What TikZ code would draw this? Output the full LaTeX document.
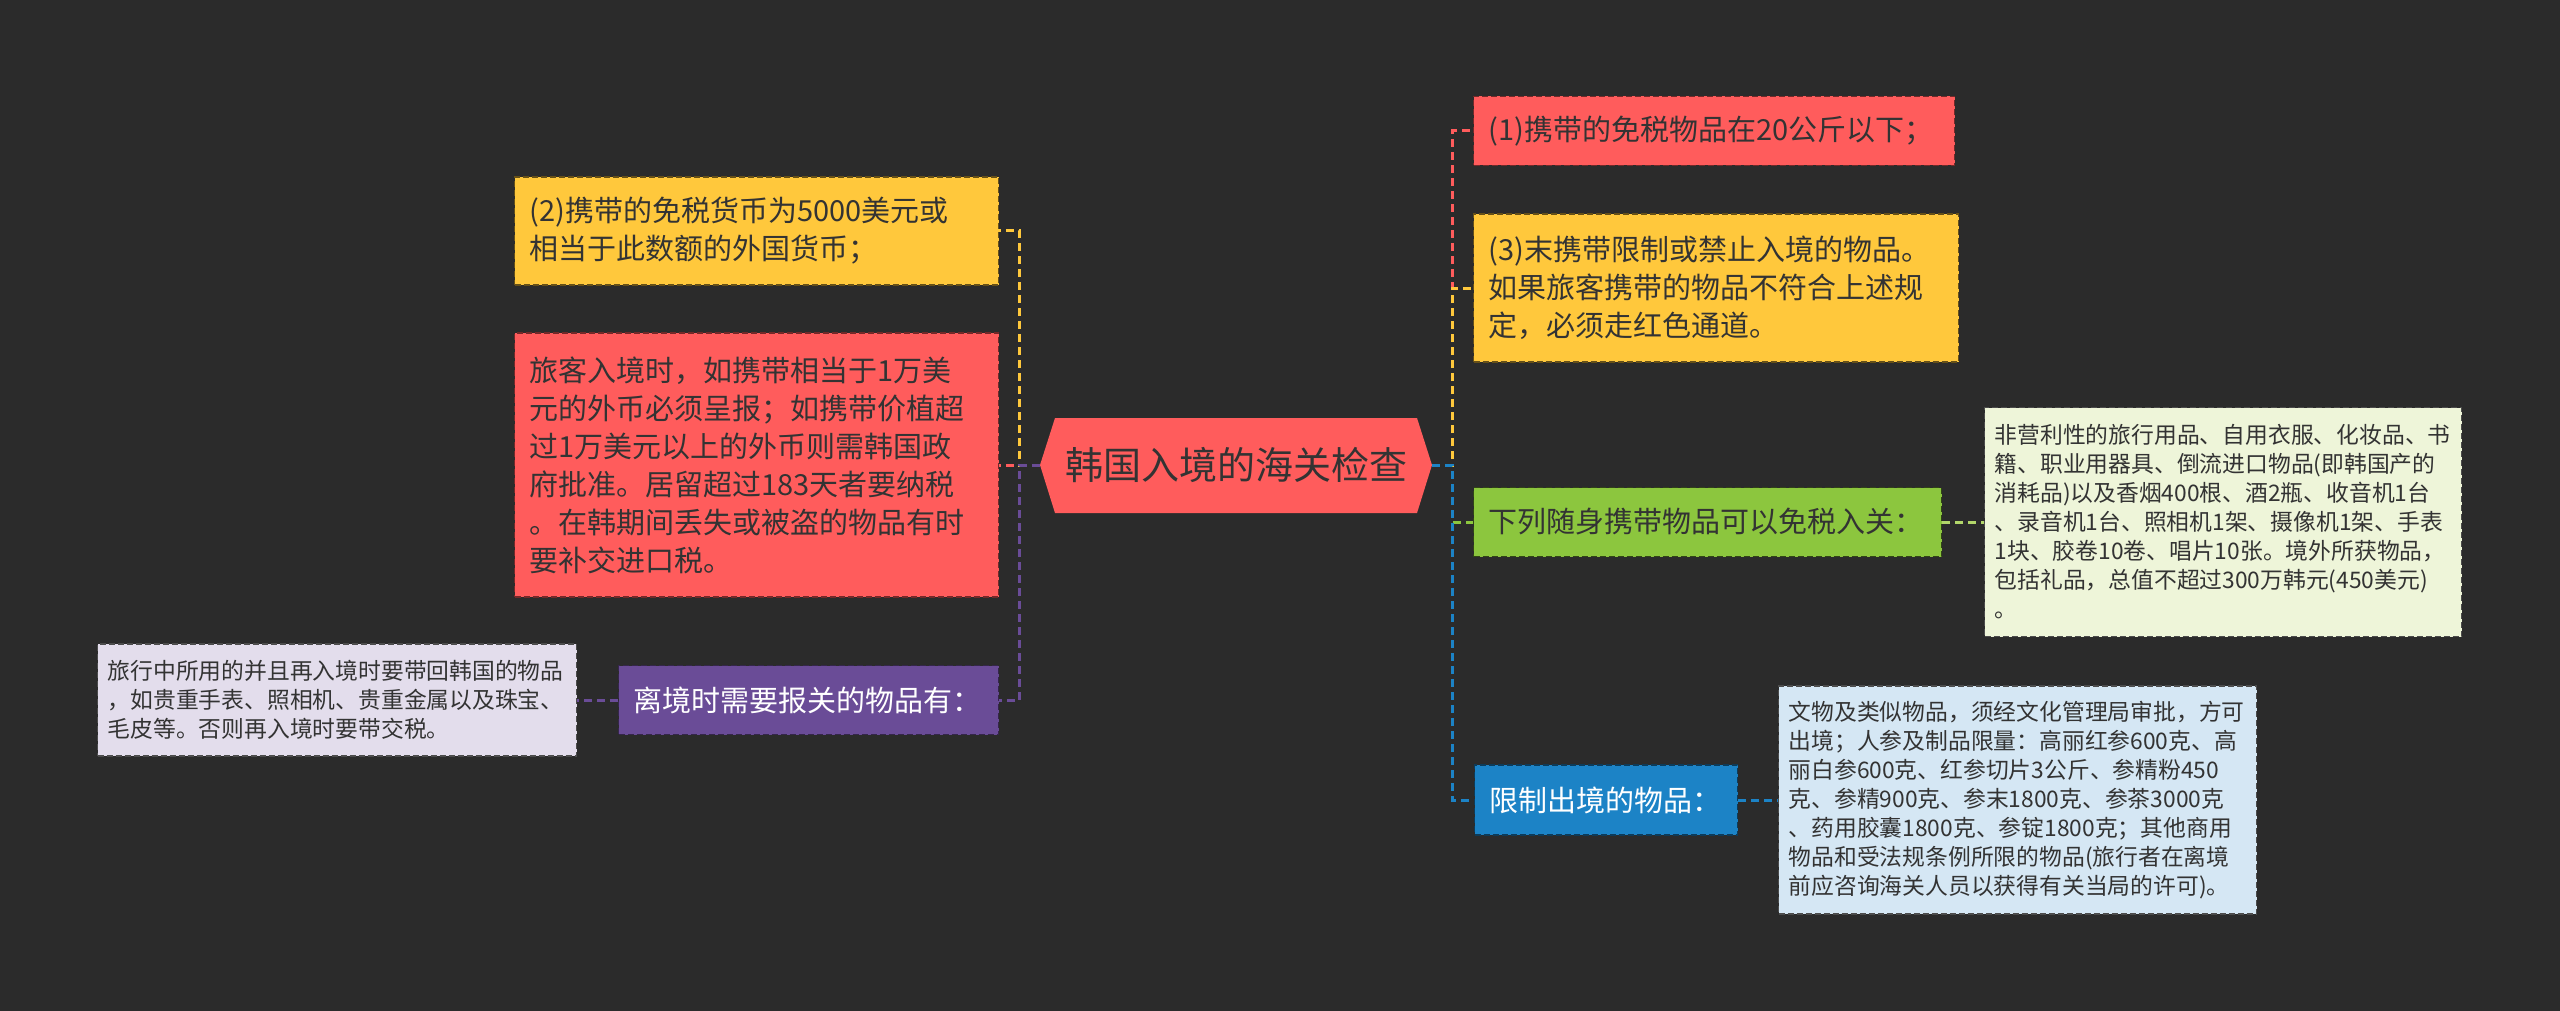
\documentclass[tikz,border=0pt]{standalone}
\usepackage{fontspec}
\setmainfont{Noto Sans CJK SC}

\definecolor{bgdark}{HTML}{2B2B2B}
\definecolor{cred}{HTML}{FF5C5C}
\definecolor{cyellow}{HTML}{FFC83C}
\definecolor{cgreen}{HTML}{8CC63E}
\definecolor{clink}{HTML}{B2D66A}
\definecolor{cblue}{HTML}{1C83C6}
\definecolor{cpurple}{HTML}{6A4C97}
\definecolor{clavender}{HTML}{E3DDEC}
\definecolor{clightgreen}{HTML}{EEF5D9}
\definecolor{clightblue}{HTML}{D5E7F4}
\definecolor{textdark}{HTML}{333333}

\begin{document}
\begin{tikzpicture}[
            x=1pt, y=-1pt,
            link/.style={line width=3pt, dash pattern=on 8pt off 5pt},
            main box/.style={anchor=west, align=left, inner xsep=15pt, inner ysep=0pt,
            line width=1.2pt, dash pattern=on 6pt off 3pt, text=textdark,
            font=\fontsize{29}{38}\selectfont},
            detail box/.style={main box, inner xsep=10pt, draw=black!70,
            font=\fontsize{22.8}{29}\selectfont}
            ]

            % background
            \fill[bgdark] (0,0) rectangle (2560,1011);
            \useasboundingbox (0,0) rectangle (2560,1011);

            % root
            \fill[cred] (1040,465) -- (1055,418) -- (1417,418) -- (1432,465)
                -- (1417,513) -- (1055,513) -- cycle;
            \node (root) at (1236,465) [minimum width=392pt, minimum height=95pt,
                inner sep=0pt, text=textdark, font=\fontsize{38}{46}\selectfont]
                {韩国入境的海关检查};

            % left side
            \node (cash) at (514,231) [main box, fill=cyellow, draw=cyellow!40!black,
                text width=454pt, minimum height=108pt]
                {(2)携带的免税货币为5000美元或\\相当于此数额的外国货币；};
            \node (declare) at (514,465) [main box, fill=cred, draw=cred!45!black,
                text width=454pt, minimum height=264pt]
                {旅客入境时，如携带相当于1万美\\元的外币必须呈报；如携带价植超\\过1万美元以上的外币则需韩国政\\府批准。居留超过183天者要纳税\\。在韩期间丢失或被盗的物品有时\\要补交进口税。};
            \node (leave) at (618,700) [main box, fill=cpurple, draw=cpurple!50!black,
                text=white, text width=350pt, minimum height=69pt]
                {离境时需要报关的物品有：};
            \node (leavedet) at (97,700) [detail box, fill=clavender,
                text width=459pt, minimum height=112pt]
                {旅行中所用的并且再入境时要带回韩国的物品\\，如贵重手表、照相机、贵重金属以及珠宝、\\毛皮等。否则再入境时要带交税。};

            % right side
            \node (weight) at (1473,131) [main box, fill=cred, draw=cred!45!black,
                text width=451pt, minimum height=69pt]
                {(1)携带的免税物品在20公斤以下；};
            \node (limit) at (1473,288) [main box, fill=cyellow, draw=cyellow!40!black,
                text width=455pt, minimum height=148pt]
                {(3)末携带限制或禁止入境的物品。\\如果旅客携带的物品不符合上述规\\定，必须走红色通道。};
            \node (freeitems) at (1473,522) [main box, fill=cgreen, draw=cgreen!35!black,
                text width=438pt, minimum height=69pt]
                {下列随身携带物品可以免税入关：};
            \node (freedet) at (1984,522) [detail box, fill=clightgreen,
                text width=457pt, minimum height=229pt]
                {非营利性的旅行用品、自用衣服、化妆品、书\\籍、职业用器具、倒流进口物品(即韩国产的\\消耗品)以及香烟400根、酒2瓶、收音机1台\\、录音机1台、照相机1架、摄像机1架、手表\\1块、胶卷10卷、唱片10张。境外所获物品，\\包括礼品，总值不超过300万韩元(450美元)\\。};
            \node (restrict) at (1474,800) [main box, fill=cblue, draw=cblue!45!black,
                text=white, text width=233pt, minimum height=70pt]
                {限制出境的物品：};
            \node (restrictdet) at (1778,800) [detail box, fill=clightblue,
                text width=458pt, minimum height=228pt]
                {文物及类似物品，须经文化管理局审批，方可\\出境；人参及制品限量：高丽红参600克、高\\丽白参600克、红参切片3公斤、参精粉450\\克、参精900克、参末1800克、参茶3000克\\、药用胶囊1800克、参锭1800克；其他商用\\物品和受法规条例所限的物品(旅行者在离境\\前应咨询海关人员以获得有关当局的许可)。};

            % links left
            \draw[link, cred] (root.west) -- (declare.east);
            \draw[link, cyellow] (root.west) -- ++(-20,0) |- (cash.east);
            \draw[link, cpurple] (root.west) -- ++(-20,0) |- (leave.east);
            \draw[link, cpurple] (leave.west) -- (leavedet.east);

            % links right
            \draw[link, cred] (root.east) -- ++(20,0) |- (weight.west);
            \draw[link, cyellow] (root.east) -- ++(20,0) |- (limit.west);
            \draw[link, cgreen] (root.east) -- ++(20,0) |- (freeitems.west);
            \draw[link, cblue] (root.east) -- ++(20,0) |- (restrict.west);
            \draw[link, clink] (freeitems.east) -- (freedet.west);
            \draw[link, cblue] (restrict.east) -- (restrictdet.west);

        \end{tikzpicture}
\end{document}
